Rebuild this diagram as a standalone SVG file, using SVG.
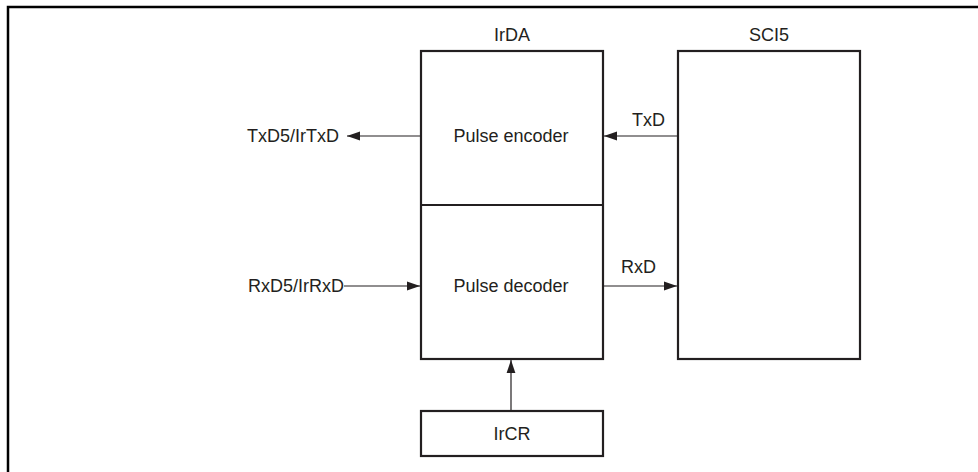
<svg xmlns="http://www.w3.org/2000/svg" width="978" height="472" viewBox="0 0 978 472">
<style>
.box{fill:#fff;stroke:#231f20;stroke-width:2.2}
.ln{stroke:#231f20;stroke-width:1.2;fill:none}
.t{font-family:"Liberation Sans",Arial,sans-serif;font-size:18px;fill:#231f20}
.m{text-anchor:middle}
.e{text-anchor:end}
</style>
<defs>
<marker id="ah" markerWidth="13" markerHeight="10" refX="13" refY="5" orient="auto" markerUnits="userSpaceOnUse">
<path d="M0,0.6 L13,5 L0,9.4 Z" fill="#231f20"/>
</marker>
</defs>
<path d="M8,472 V7 H978" fill="none" stroke="#000" stroke-width="2.5"/>
<g id="irda">
<rect class="box" x="421" y="51" width="182" height="308"/>
<line class="box" x1="421" y1="205" x2="603" y2="205"/>
<text class="t m" x="512" y="41">IrDA</text>
</g>
<g id="encoder"><text class="t m" x="511" y="142">Pulse encoder</text></g>
<g id="decoder"><text class="t m" x="511" y="292">Pulse decoder</text></g>
<g id="sci5">
<rect class="box" x="678" y="51" width="182" height="308"/>
<text class="t m" x="769" y="41">SCI5</text>
</g>
<g id="ircr">
<rect class="box" x="421" y="411" width="182" height="45"/>
<text class="t m" x="512" y="440">IrCR</text>
</g>
<g id="txd5"><text class="t e" x="339" y="142">TxD5/IrTxD</text></g>
<g id="rxd5"><text class="t e" x="344" y="292">RxD5/IrRxD</text></g>
<g id="connectors">
<line class="ln" x1="421" y1="136" x2="347" y2="136" marker-end="url(#ah)"/>
<line class="ln" x1="678" y1="136" x2="604" y2="136" marker-end="url(#ah)"/>
<text class="t" x="632" y="126">TxD</text>
<line class="ln" x1="344" y1="286" x2="420" y2="286" marker-end="url(#ah)"/>
<line class="ln" x1="603" y1="286" x2="677" y2="286" marker-end="url(#ah)"/>
<text class="t" x="621" y="273">RxD</text>
<line class="ln" x1="511" y1="410" x2="511" y2="360" marker-end="url(#ah)"/>
</g>
</svg>
